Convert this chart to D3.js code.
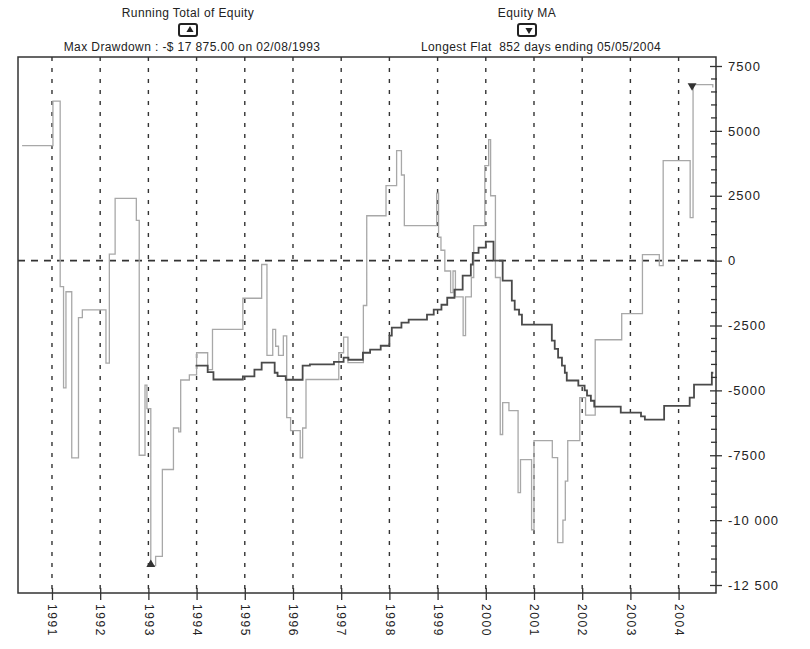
<!DOCTYPE html>
<html><head><meta charset="utf-8">
<script src="https://cdn.jsdelivr.net/npm/d3@7"></script>
<style>body{margin:0;background:#fff}svg{display:block}text{font-family:"Liberation Sans",Arial,sans-serif;fill:#222}</style>
</head><body><svg id="c" width="810" height="649"></svg>
<script>
// ---- data (decimal year, value) ----
const equityDates = [1990.38,1991.02,1991.17,1991.24,1991.29,1991.41,1991.55,1991.63,1992.12,1992.19,1992.31,1992.75,1992.81,1992.93,1992.97,1993.05,1993.15,1993.29,1993.52,1993.63,1993.67,1993.85,1994.0,1994.23,1994.33,1994.96,1995.35,1995.46,1995.58,1995.64,1995.70,1995.80,1995.87,1995.95,1996.15,1996.2,1996.27,1996.95,1997.05,1997.14,1997.46,1997.53,1997.93,1998.15,1998.25,1998.31,1998.98,1999.02,1999.07,1999.15,1999.27,1999.32,1999.37,1999.53,1999.58,1999.7,1999.75,1999.98,2000.06,2000.1,2000.2,2000.3,2000.35,2000.48,2000.67,2000.72,2000.95,2001.0,2001.38,2001.49,2001.6,2001.65,2001.7,2001.95,2002.07,2002.27,2002.82,2003.25,2003.6,2003.68,2004.24,2004.3,2004.71];
const equityValues = [4430,6150,-1000,-4900,-1200,-7600,-2200,-1900,-3950,250,2400,1550,-7500,-4800,-5700,-11750,-11400,-8050,-6450,-6600,-4600,-4400,-3550,-4200,-2650,-1450,-150,-3650,-2650,-3300,-3650,-2900,-6050,-6550,-7600,-6450,-4580,-3550,-2950,-3930,-1730,1730,2890,4240,3300,1350,2600,900,400,-400,-1230,-400,-1400,-2890,-1400,-650,1350,3660,4660,2500,-650,-6700,-5470,-5780,-8940,-7670,-10370,-6940,-7590,-10870,-10000,-8500,-6940,-5280,-5950,-3050,-2040,230,-190,3850,1660,6780,6670];
const maDates = [1993.98,1994.23,1994.35,1994.96,1995.2,1995.35,1995.62,1995.68,1995.85,1996.2,1996.35,1996.85,1997.05,1997.15,1997.45,1997.6,1997.82,1998.0,1998.05,1998.25,1998.4,1998.78,1998.92,1999.08,1999.2,1999.35,1999.52,1999.69,1999.73,1999.85,2000.0,2000.16,2000.35,2000.54,2000.6,2000.69,2000.75,2000.98,2001.37,2001.43,2001.5,2001.58,2001.64,2001.68,2001.92,2002.05,2002.1,2002.18,2002.25,2002.8,2003.22,2003.3,2003.7,2004.23,2004.32,2004.69,2004.72];
const maValues = [-4050,-4300,-4580,-4460,-4200,-3930,-4320,-4450,-4590,-4050,-4000,-3900,-3740,-3820,-3550,-3430,-3280,-2890,-2580,-2390,-2270,-2080,-1890,-1700,-1430,-1120,-580,-150,300,500,730,0,-770,-1540,-1890,-2080,-2470,-2470,-3080,-3400,-3740,-4050,-4320,-4620,-4820,-5000,-5200,-5400,-5630,-5860,-6000,-6130,-5600,-5280,-4780,-4320,-4320];
const yearTicks = [1991,1992,1993,1994,1995,1996,1997,1998,1999,2000,2001,2002,2003,2004];
const yTickValues = [7500,5000,2500,0,-2500,-5000,-7500,-10000,-12500];
const yTickLabels = ["7500","5000","2500","0","-2500","-5000","-7500","-10\u00a0000","-12\u00a0500"];
const drawdownPoint = [1993.05,-11750];
const flatEndPoint = [2004.3,6780];
const titleLeft = "Running Total of Equity";
const noteLeft = "Max Drawdown : -$ 17 875.00 on 02/08/1993";
const titleRight = "Equity MA";
const noteRight = "Longest Flat\u00a0\u00a0852 days ending 05/05/2004";

// ---- layout ----
const L=18,R=716,T=57,B=593;
const svg=d3.select("#c");
const x=d3.scaleLinear().domain([1990.295,2004.776]).range([L,R]);
const y=d3.scaleLinear().domain([-12500,7500]).range([585,66]);

// grid
svg.append("g").selectAll("line").data(yearTicks).join("line")
  .attr("x1",d=>x(d)).attr("x2",d=>x(d)).attr("y1",T).attr("y2",B)
  .attr("stroke","#333").attr("stroke-width",1.4).attr("stroke-dasharray","4,7");
svg.append("line").attr("x1",L).attr("x2",R).attr("y1",y(0)).attr("y2",y(0))
  .attr("stroke","#333").attr("stroke-width",1.8).attr("stroke-dasharray","7,6");

// frame
svg.append("rect").attr("x",L).attr("y",T).attr("width",R-L).attr("height",B-T)
  .attr("fill","none").attr("stroke","#333").attr("stroke-width",1.5);

// series
const eq=equityDates.map((d,i)=>[d,equityValues[i]]);
const ma=maDates.map((d,i)=>[d,maValues[i]]);
const line=d3.line().x(d=>x(d[0])).y(d=>y(d[1])).curve(d3.curveStepAfter);
svg.append("path").attr("d",line(eq)).attr("fill","none").attr("stroke","#a8a8a8").attr("stroke-width",1.3);
svg.append("path").attr("d",line(ma)).attr("fill","none").attr("stroke","#4a4a4a").attr("stroke-width",1.8);

// markers
const tri=d3.symbol().type(d3.symbolTriangle).size(34);
svg.append("path").attr("d",tri()).attr("transform",`translate(${x(drawdownPoint[0])},${y(drawdownPoint[1])-1})`).attr("fill","#333");
svg.append("path").attr("d",tri()).attr("transform",`translate(${x(flatEndPoint[0])-1},${y(flatEndPoint[1])+1}) rotate(180)`).attr("fill","#333");

// right axis
const ya=d3.axisRight(y).tickValues(yTickValues).tickFormat((d,i)=>yTickLabels[i]).tickSize(6);
const gy=svg.append("g").attr("transform",`translate(${R},0)`).call(ya);
gy.select(".domain").remove();
gy.selectAll(".tick line").attr("x1",-6).attr("x2",6).attr("stroke","#333").attr("stroke-width",1.3);
gy.selectAll(".tick text").attr("x",12).style("font-size","13px").style("letter-spacing","1px")
  .style("font-family","Liberation Sans, Arial, sans-serif").attr("fill","#333");
const minor=d3.range(-12500,7501,500).filter(v=>v%2500!==0);
svg.append("g").selectAll("line").data(minor).join("line")
  .attr("x1",R-5).attr("x2",R+1).attr("y1",d=>y(d)).attr("y2",d=>y(d)).attr("stroke","#333").attr("stroke-width",1.3);

// bottom axis
const xa=d3.axisBottom(x).tickValues(yearTicks).tickFormat(d3.format("d")).tickSize(6);
const gx=svg.append("g").attr("transform",`translate(0,${B})`).call(xa);
gx.select(".domain").remove();
gx.selectAll(".tick line").attr("y1",-5).attr("y2",7).attr("stroke","#333").attr("stroke-width",1.3);
gx.selectAll(".tick text").attr("transform","rotate(90)").attr("x",11).attr("y",0).attr("dy","0.35em")
  .style("text-anchor","start").style("font-size","12px").style("letter-spacing","1.6px")
  .style("font-family","Liberation Sans, Arial, sans-serif").attr("fill","#333");

// header
function hdr(cx,title,up){
  svg.append("text").attr("x",cx).attr("y",17).attr("text-anchor","middle")
    .style("font-size","12px").style("letter-spacing","0.4px").text(title);
  svg.append("rect").attr("x",cx-9).attr("y",24).attr("width",18).attr("height",12).attr("rx",2)
    .attr("fill","#fff").attr("stroke","#222").attr("stroke-width",2);
  svg.append("path").attr("d",d3.symbol().type(d3.symbolTriangle).size(22)())
    .attr("transform",`translate(${cx+2},30) rotate(${up?0:180})`).attr("fill","#222");
}
hdr(188,titleLeft,true);
hdr(527,titleRight,false);
svg.append("text").attr("x",192).attr("y",51).attr("text-anchor","middle")
  .style("font-size","12px").style("letter-spacing","0.4px").text(noteLeft);
svg.append("text").attr("x",541).attr("y",51).attr("text-anchor","middle")
  .style("font-size","12px").style("letter-spacing","0.4px").text(noteRight);
</script></body></html>
